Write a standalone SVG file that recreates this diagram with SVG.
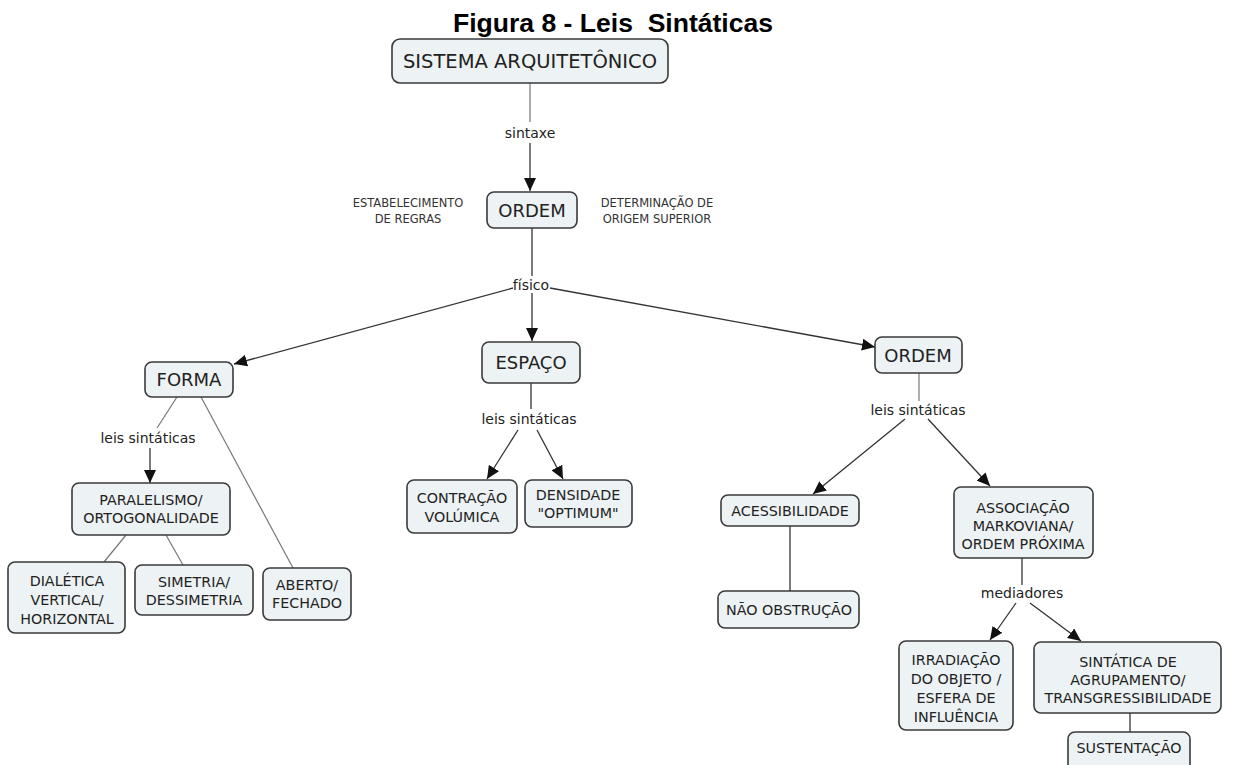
<svg xmlns="http://www.w3.org/2000/svg" width="1244" height="765" viewBox="0 0 1244 765">
  <style>
    .box { fill: #edf2f4; stroke: #3a3a3a; stroke-width: 1.6; }
    .t { font-family: "DejaVu Sans", Verdana, sans-serif; fill: #222; text-anchor: middle; }
    .big { font-size: 18px; }
    .mid { font-size: 14.3px; }
    .lbl { font-family: "DejaVu Sans", Verdana, sans-serif; font-size: 14px; fill: #222; text-anchor: middle; }
    .note { font-family: "DejaVu Sans", Verdana, sans-serif; font-size: 11.5px; fill: #333; text-anchor: middle; }
    .ln { stroke: #333; stroke-width: 1.3; fill: none; }
    .ln2 { stroke: #777; stroke-width: 1.2; fill: none; }
    .arr { marker-end: url(#head); }
  </style>
  <defs>
    <marker id="head" markerUnits="userSpaceOnUse" markerWidth="13" markerHeight="12" refX="13" refY="6" orient="auto">
      <path d="M0,0 L13,6 L0,12 z" fill="#111"/>
    </marker>
  </defs>

  <rect width="1244" height="765" fill="#ffffff"/>

  <text x="613" y="32" font-family="Liberation Sans, Arial, sans-serif" font-size="25.5" font-weight="bold" text-anchor="middle" fill="#000" textLength="320" lengthAdjust="spacingAndGlyphs" xml:space="preserve">Figura 8 - Leis  Sintáticas</text>

  <!-- connectors and linking phrases -->
  <g id="connectors">
    <line class="ln2" x1="530" y1="83" x2="530" y2="122"/>
    <text class="lbl" x="530" y="138">sintaxe</text>
    <line class="ln arr" x1="530" y1="143" x2="530" y2="191"/>

    <line class="ln" x1="532" y1="228" x2="532" y2="276"/>
    <text class="lbl" x="531" y="290">físico</text>
    <line class="ln arr" x1="513" y1="288" x2="234" y2="364"/>
    <line class="ln arr" x1="532" y1="293" x2="532" y2="341"/>
    <line class="ln arr" x1="550" y1="288" x2="875" y2="347"/>

    <line class="ln2" x1="177" y1="397" x2="157" y2="428"/>
    <text class="lbl" x="148" y="443">leis sintáticas</text>
    <line class="ln arr" x1="150" y1="448" x2="150" y2="483"/>
    <line class="ln2" x1="201" y1="397" x2="293" y2="568"/>

    <line class="ln2" x1="126" y1="535" x2="104" y2="562"/>
    <line class="ln2" x1="166" y1="535" x2="183" y2="565"/>

    <line class="ln" x1="531" y1="383" x2="531" y2="409"/>
    <text class="lbl" x="529" y="424">leis sintáticas</text>
    <line class="ln arr" x1="518" y1="430" x2="487" y2="479"/>
    <line class="ln arr" x1="537" y1="430" x2="563" y2="479"/>

    <line class="ln2" x1="919" y1="373" x2="919" y2="401"/>
    <text class="lbl" x="918" y="415">leis sintáticas</text>
    <line class="ln arr" x1="905" y1="419" x2="813" y2="494"/>
    <line class="ln arr" x1="928" y1="419" x2="990" y2="486"/>

    <line class="ln" x1="790" y1="526" x2="790" y2="591"/>

    <line class="ln" x1="1022" y1="558" x2="1022" y2="585"/>
    <text class="lbl" x="1022" y="598">mediadores</text>
    <line class="ln arr" x1="1016" y1="603" x2="990" y2="640"/>
    <line class="ln arr" x1="1030" y1="603" x2="1081" y2="641"/>

    <line class="ln" x1="1130" y1="713" x2="1130" y2="732"/>
  </g>

  <!-- side notes -->
  <g id="notes">
    <text class="note" x="408" y="207">ESTABELECIMENTO</text>
    <text class="note" x="408" y="223">DE REGRAS</text>
    <text class="note" x="657" y="207">DETERMINAÇÃO DE</text>
    <text class="note" x="657" y="223">ORIGEM SUPERIOR</text>
  </g>

  <!-- concepts -->
  <g id="sistema">
    <rect class="box" x="392" y="39" width="276" height="44" rx="8"/>
    <text class="t" x="530" y="68" font-size="19.5">SISTEMA ARQUITETÔNICO</text>
  </g>
  <g id="ordem">
    <rect class="box" x="487" y="192" width="90" height="36" rx="7"/>
    <text class="t big" x="532" y="217">ORDEM</text>
  </g>
  <g id="forma">
    <rect class="box" x="145" y="362" width="88" height="35" rx="7"/>
    <text class="t big" x="189" y="386">FORMA</text>
  </g>
  <g id="espaco">
    <rect class="box" x="482" y="342" width="98" height="41" rx="7"/>
    <text class="t big" x="531" y="369">ESPAÇO</text>
  </g>
  <g id="ordem-2">
    <rect class="box" x="875" y="337" width="87" height="36" rx="7"/>
    <text class="t big" x="918" y="362">ORDEM</text>
  </g>
  <g id="paralelismo">
    <rect class="box" x="72" y="483" width="158" height="52" rx="7"/>
    <text class="t mid" x="151" y="505">PARALELISMO/</text>
    <text class="t mid" x="151" y="523">ORTOGONALIDADE</text>
  </g>
  <g id="dialetica">
    <rect class="box" x="8" y="562" width="117" height="71" rx="7"/>
    <text class="t mid" x="67" y="586">DIALÉTICA</text>
    <text class="t mid" x="67" y="605">VERTICAL/</text>
    <text class="t mid" x="67" y="624">HORIZONTAL</text>
  </g>
  <g id="simetria">
    <rect class="box" x="135" y="565" width="118" height="50" rx="7"/>
    <text class="t mid" x="194" y="587">SIMETRIA/</text>
    <text class="t mid" x="194" y="605">DESSIMETRIA</text>
  </g>
  <g id="aberto">
    <rect class="box" x="263" y="568" width="88" height="52" rx="7"/>
    <text class="t mid" x="307" y="590">ABERTO/</text>
    <text class="t mid" x="307" y="608">FECHADO</text>
  </g>
  <g id="contracao">
    <rect class="box" x="407" y="480" width="110" height="53" rx="7"/>
    <text class="t mid" x="462" y="503">CONTRAÇÃO</text>
    <text class="t mid" x="462" y="522">VOLÚMICA</text>
  </g>
  <g id="densidade">
    <rect class="box" x="525" y="480" width="107" height="47" rx="7"/>
    <text class="t mid" x="578" y="500">DENSIDADE</text>
    <text class="t mid" x="578" y="518">"OPTIMUM"</text>
  </g>
  <g id="acessibilidade">
    <rect class="box" x="721" y="495" width="138" height="31" rx="7"/>
    <text class="t mid" x="790" y="516">ACESSIBILIDADE</text>
  </g>
  <g id="nao-obstrucao">
    <rect class="box" x="718" y="591" width="141" height="37" rx="7"/>
    <text class="t mid" x="789" y="615">NÃO OBSTRUÇÃO</text>
  </g>
  <g id="associacao">
    <rect class="box" x="954" y="487" width="139" height="71" rx="7"/>
    <text class="t mid" x="1023" y="513">ASSOCIAÇÃO</text>
    <text class="t mid" x="1023" y="531">MARKOVIANA/</text>
    <text class="t mid" x="1023" y="549">ORDEM PRÓXIMA</text>
  </g>
  <g id="irradiacao">
    <rect class="box" x="899" y="641" width="114" height="89" rx="7"/>
    <text class="t mid" x="956" y="665">IRRADIAÇÃO</text>
    <text class="t mid" x="956" y="684">DO OBJETO /</text>
    <text class="t mid" x="956" y="703">ESFERA DE</text>
    <text class="t mid" x="956" y="722">INFLUÊNCIA</text>
  </g>
  <g id="sintatica">
    <rect class="box" x="1034" y="642" width="187" height="71" rx="7"/>
    <text class="t mid" x="1128" y="667">SINTÁTICA DE</text>
    <text class="t mid" x="1128" y="685">AGRUPAMENTO/</text>
    <text class="t mid" x="1128" y="703">TRANSGRESSIBILIDADE</text>
  </g>
  <g id="sustentacao">
    <rect class="box" x="1068" y="732" width="122" height="40" rx="7"/>
    <text class="t mid" x="1129" y="753">SUSTENTAÇÃO</text>
  </g>
</svg>
